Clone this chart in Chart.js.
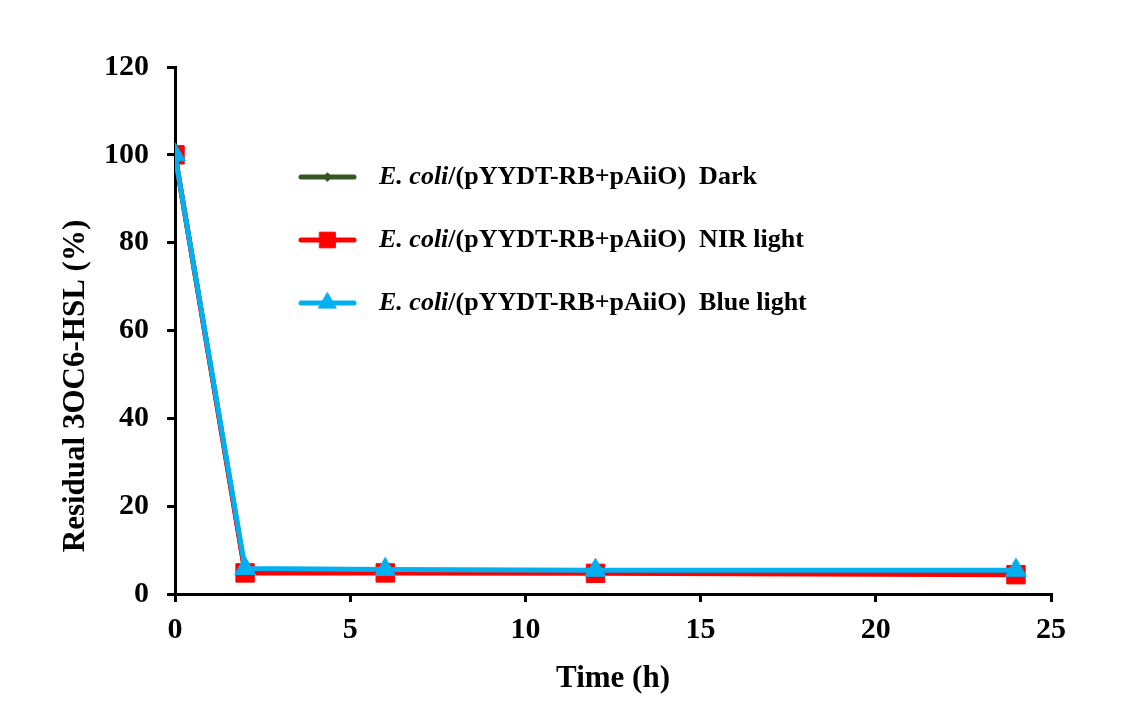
<!DOCTYPE html>
<html>
<head>
<meta charset="utf-8">
<script src="https://cdn.jsdelivr.net/npm/chart.js@4"></script>
<style>
  html, body { margin: 0; padding: 0; background: #fff; }
  #wrap { width: 1124px; height: 724px; position: relative; }
</style>
</head>
<body>
<div id="wrap"><canvas id="chart" width="1124" height="724"></canvas></div>
<script>
  /* --- Data --- */
  const timePoints = [0, 2, 6, 12, 24];
  const darkValues = [100, 5.2, 5.0, 4.9, 4.7];
  const nirValues = [100, 4.8, 4.8, 4.7, 4.4];
  const blueValues = [100, 5.8, 5.6, 5.4, 5.4];
  const yTicks = [0, 20, 40, 60, 80, 100, 120];
  const xTicks = [0, 5, 10, 15, 20, 25];
  const yTitle = 'Residual 3OC6-HSL (%)';
  const xTitle = 'Time (h)';
  const legendPrefix = 'E. coli';
  const legendLabels = ['/(pYYDT-RB+pAiiO)  Dark', '/(pYYDT-RB+pAiiO)  NIR light', '/(pYYDT-RB+pAiiO)  Blue light'];

  const serif = "'Liberation Serif', 'Times New Roman', serif";
  const darkGreen = '#375623';
  const red = '#ff0000';
  const blue = '#00b0f0';

  const seriesStyles = [
    { color: darkGreen, style: 'rectRot', radius: 5, order: 2 },
    { color: red, style: 'rect', radius: 13, order: 1 },
    { color: blue, style: 'triangle', radius: 12, order: 0 }
  ];
  const seriesValues = [darkValues, nirValues, blueValues];

  function toPoints(vals) {
    return vals.map((v, i) => ({ x: timePoints[i], y: v }));
  }

  /* --- Legend inside the plot, with italic species name --- */
  const insideLegend = {
    id: 'insideLegend',
    afterDraw(chart) {
      const ctx = chart.ctx;
      const rows = [177, 240, 303];
      ctx.save();
      rows.forEach((y, i) => {
        const s = seriesStyles[i];
        ctx.strokeStyle = s.color;
        ctx.fillStyle = s.color;
        ctx.lineWidth = 5;
        ctx.lineCap = 'round';
        ctx.beginPath();
        ctx.moveTo(301, y);
        ctx.lineTo(354, y);
        ctx.stroke();
        ctx.lineWidth = 1;
        Chart.helpers.drawPoint(ctx, { pointStyle: s.style, radius: s.radius * 0.85, borderWidth: 1 }, 327.5, y);
        ctx.fillStyle = '#000';
        ctx.textBaseline = 'middle';
        ctx.textAlign = 'left';
        ctx.font = 'italic bold 26px ' + serif;
        ctx.fillText(legendPrefix, 379, y);
        const w = ctx.measureText(legendPrefix).width;
        ctx.font = 'bold 26px ' + serif;
        ctx.fillText(legendLabels[i], 379 + w, y);
      });
      ctx.restore();
    }
  };

  /* --- Y title sits lower than the plot centre in the original --- */
  const yTitlePlugin = {
    id: 'yTitlePlugin',
    afterDraw(chart) {
      const ctx = chart.ctx;
      ctx.save();
      ctx.translate(76, 386);
      ctx.rotate(-Math.PI / 2);
      ctx.fillStyle = '#000';
      ctx.font = 'bold 31px ' + serif;
      ctx.textAlign = 'center';
      ctx.textBaseline = 'middle';
      ctx.fillText(yTitle, 0, 0);
      ctx.restore();
    }
  };

  new Chart(document.getElementById('chart'), {
    type: 'line',
    data: {
      datasets: seriesValues.map((vals, i) => ({
        label: legendLabels[i],
        data: toPoints(vals),
        borderColor: seriesStyles[i].color,
        backgroundColor: seriesStyles[i].color,
        pointBackgroundColor: seriesStyles[i].color,
        pointBorderColor: seriesStyles[i].color,
        pointStyle: seriesStyles[i].style,
        pointRadius: seriesStyles[i].radius,
        pointBorderWidth: 1,
        borderWidth: 5,
        tension: 0,
        order: seriesStyles[i].order
      }))
    },
    options: {
      responsive: false,
      animation: false,
      events: [],
      layout: { padding: { left: 0, right: 73, top: 67, bottom: 0 } },
      plugins: {
        legend: { display: false },
        tooltip: { enabled: false }
      },
      scales: {
        x: {
          type: 'linear',
          min: 0,
          max: 25,
          afterBuildTicks: (axis) => { axis.ticks = xTicks.map((v) => ({ value: v })); },
          afterFit: (axis) => { axis.height = 724 - 594; },
          grid: { drawOnChartArea: false, tickLength: 8, color: '#000', lineWidth: 3 },
          border: { color: '#000', width: 3 },
          ticks: { color: '#000', font: { family: serif, size: 30, weight: 'bold' }, padding: 10 },
          title: { display: true, text: xTitle, color: '#000', font: { family: serif, size: 31, weight: 'bold' }, padding: { top: 0, bottom: 26 } }
        },
        y: {
          min: 0,
          max: 120,
          afterBuildTicks: (axis) => { axis.ticks = yTicks.map((v) => ({ value: v })); },
          afterFit: (axis) => { axis.width = 175; },
          grid: { drawOnChartArea: false, tickLength: 8, color: '#000', lineWidth: 3 },
          border: { color: '#000', width: 3 },
          ticks: { color: '#000', font: { family: serif, size: 30, weight: 'bold' }, padding: 18 },
          title: { display: false }
        }
      }
    },
    plugins: [insideLegend, yTitlePlugin]
  });
</script>
</body>
</html>
